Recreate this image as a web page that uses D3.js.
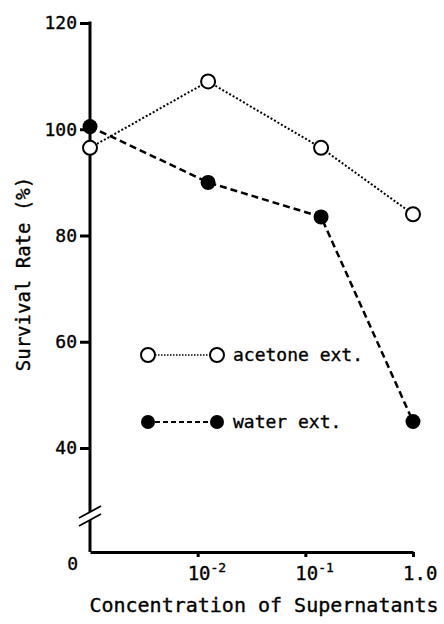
<!DOCTYPE html>
<html>
<head>
<meta charset="utf-8">
<script src="https://cdn.jsdelivr.net/npm/d3@7"></script>
<style>
  body { margin: 0; background: #fff; }
  text { font-family: "DejaVu Sans Mono", monospace; fill: #000; stroke: #000; stroke-width: 0.35px; }
</style>
</head>
<body>
<div id="chart"></div>
<script>
// concentration of supernatant; first one is the control, drawn on the y axis
const concentrations = [0.001, 0.0125, 0.14, 1.0];
const acetoneExt = [96.5, 109, 96.5, 84];
const waterExt = [100.5, 90, 83.5, 45];

const yTickValues = [40, 60, 80, 100, 120];
const xTickValues = [0.01, 0.1, 1];
const xTickBases = ["10", "10", "1.0"];
const xTickExps = ["-2", "-1", ""];

const seriesNames = ["acetone ext.", "water ext."];

const width = 444, height = 624;
const axisBottomY = 552;   // y of the x axis (the "0" level, below the break)
const breakY = 516;

const svg = d3.select("#chart").append("svg")
    .attr("width", width)
    .attr("height", height);

svg.append("rect").attr("width", width).attr("height", height).attr("fill", "#fff");

const x = d3.scaleLog().domain([0.001, 1]).range([90, 413]);
const y = d3.scaleLinear().domain([40, 120]).range([448, 23]);

// y axis (broken between 40 and 0)
const yAxis = svg.append("g")
    .attr("transform", `translate(${x.range()[0]},0)`)
    .call(d3.axisLeft(y).tickValues(yTickValues).tickSize(10).tickSizeOuter(0));
yAxis.select(".domain").remove();
yAxis.selectAll(".tick line").attr("stroke", "#000").attr("stroke-width", 3);
yAxis.selectAll(".tick text")
    .attr("font-size", 18)
    .attr("font-family", "DejaVu Sans Mono")
    .attr("x", -13);

const x0 = x.range()[0];
svg.append("line")
    .attr("x1", x0).attr("x2", x0)
    .attr("y1", y(120) - 1.5).attr("y2", breakY - 4)
    .attr("stroke", "#000").attr("stroke-width", 3);
svg.append("line")
    .attr("x1", x0).attr("x2", x0)
    .attr("y1", breakY + 4).attr("y2", axisBottomY)
    .attr("stroke", "#000").attr("stroke-width", 3);
[-4, 4].forEach(off => {
  svg.append("line")
      .attr("x1", x0 - 11).attr("y1", breakY + off + 6)
      .attr("x2", x0 + 11).attr("y2", breakY + off - 6)
      .attr("stroke", "#000").attr("stroke-width", 1.8);
});
svg.append("text")
    .attr("x", 78).attr("y", axisBottomY + 18)
    .attr("text-anchor", "end")
    .attr("font-size", 18)
    .text("0");

// x axis
const xAxis = svg.append("g")
    .attr("transform", `translate(0,${axisBottomY})`)
    .call(d3.axisBottom(x).tickValues(xTickValues).tickSize(5).tickSizeOuter(0).tickFormat(""));
xAxis.select(".domain").attr("stroke", "#000").attr("stroke-width", 3);
xAxis.selectAll(".tick line").attr("stroke", "#000").attr("stroke-width", 3);

xTickValues.forEach((v, i) => {
  const t = svg.append("text")
      .attr("x", x(v) - 10)
      .attr("y", 580)
      .attr("font-size", 19);
  t.append("tspan").text(xTickBases[i]);
  if (xTickExps[i]) {
    t.append("tspan")
        .attr("font-size", 13)
        .attr("dy", -8)
        .text(xTickExps[i]);
  }
});

// axis titles
svg.append("text")
    .attr("x", 264).attr("y", 612)
    .attr("text-anchor", "middle")
    .attr("font-size", 20)
    .text("Concentration of Supernatants");

svg.append("text")
    .attr("transform", "translate(30,274) rotate(-90)")
    .attr("text-anchor", "middle")
    .attr("font-size", 19)
    .text("Survival Rate (%)");

// series
const line = d3.line()
    .x((d, i) => x(concentrations[i]))
    .y(d => y(d));

svg.append("path")
    .datum(acetoneExt)
    .attr("d", line)
    .attr("fill", "none")
    .attr("stroke", "#000")
    .attr("stroke-width", 2)
    .attr("stroke-dasharray", "2,2");

svg.append("path")
    .datum(waterExt)
    .attr("d", line)
    .attr("fill", "none")
    .attr("stroke", "#000")
    .attr("stroke-width", 2.5)
    .attr("stroke-dasharray", "7,4");

svg.selectAll(".water")
    .data(waterExt)
    .enter()
    .append("circle")
    .attr("class", "water")
    .attr("cx", (d, i) => x(concentrations[i]))
    .attr("cy", d => y(d))
    .attr("r", 7.5)
    .attr("fill", "#000");

svg.selectAll(".acetone")
    .data(acetoneExt)
    .enter()
    .append("circle")
    .attr("class", "acetone")
    .attr("cx", (d, i) => x(concentrations[i]))
    .attr("cy", d => y(d))
    .attr("r", 7)
    .attr("fill", "#fff")
    .attr("stroke", "#000")
    .attr("stroke-width", 2);

// legend
const legendRows = [
  { name: seriesNames[0], yPos: 355, dash: "1.5,1.5", sw: 1.5, fill: "#fff" },
  { name: seriesNames[1], yPos: 422, dash: "5,3", sw: 2, fill: "#000" }
];
legendRows.forEach(r => {
  const g = svg.append("g");
  g.append("line")
      .attr("x1", 155).attr("x2", 210)
      .attr("y1", r.yPos).attr("y2", r.yPos)
      .attr("stroke", "#000")
      .attr("stroke-width", r.sw)
      .attr("stroke-dasharray", r.dash);
  [148, 217].forEach(cx => {
    g.append("circle")
        .attr("cx", cx).attr("cy", r.yPos)
        .attr("r", 7)
        .attr("fill", r.fill)
        .attr("stroke", "#000")
        .attr("stroke-width", r.fill === "#fff" ? 2 : 0);
  });
  g.append("text")
      .attr("x", 233).attr("y", r.yPos + 6)
      .attr("font-size", 18)
      .text(r.name);
});
</script>
</body>
</html>
